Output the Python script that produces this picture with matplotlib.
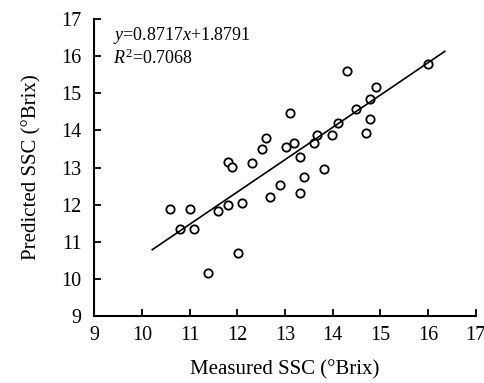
import numpy as np
import matplotlib.pyplot as plt

plt.rcParams['font.family'] = ['Liberation Serif', 'DejaVu Serif']
plt.rcParams['mathtext.fontset'] = 'custom'
plt.rcParams['mathtext.rm'] = 'Liberation Serif'
plt.rcParams['mathtext.it'] = 'Liberation Serif:italic'

# --- Dados ---
measured = [10.59, 10.80, 11.02, 11.10, 11.39, 11.60, 11.81, 11.81, 11.90, 12.02,
            12.10, 12.31, 12.51, 12.60, 12.69, 12.90, 13.02, 13.10, 13.19, 13.31,
            13.31, 13.40, 13.61, 13.68, 13.82, 13.98, 14.12, 14.31, 14.49, 14.70,
            14.78, 14.78, 14.91, 16.00]
predicted = [11.88, 11.34, 11.88, 11.34, 10.16, 11.83, 11.99, 13.16, 13.02, 10.70,
             12.04, 13.13, 13.50, 13.79, 12.21, 12.53, 13.56, 14.48, 13.67, 13.29,
             12.32, 12.75, 13.67, 13.88, 12.97, 13.88, 14.21, 15.61, 14.58, 13.94,
             14.31, 14.85, 15.18, 15.78]

slope, intercept = 0.8717, 1.8791
line_x = np.array([10.22, 16.35])
ticks = [9, 10, 11, 12, 13, 14, 15, 16, 17]

fig = plt.figure(figsize=(4.85, 3.83), dpi=100)
ax = fig.add_axes([0.194, 0.175, 0.787, 0.775])

ax.plot(measured, predicted, 'o', mfc='white', mec='black', ms=6, mew=1.3)
ax.plot(line_x, slope * line_x + intercept, color='black', lw=1.2)

ax.text(9.4, 16.55, r"$y$=0.8717$x$+1.8791", fontsize=13, va='center')
ax.text(9.4, 15.95, r"$R^2$=0.7068", fontsize=13, va='center')

ax.set_xlim(9, 17)
ax.set_ylim(9, 17)
ax.set_xticks(ticks)
ax.set_yticks(ticks)
ax.tick_params(direction='in', length=5, width=1.3, labelsize=14.5)
ax.tick_params(axis='x', pad=7)
ax.tick_params(axis='y', pad=9)
ax.spines['top'].set_visible(False)
ax.spines['right'].set_visible(False)
for s in ['left', 'bottom']:
    ax.spines[s].set_linewidth(1.5)

ax.set_xlabel("Measured SSC (°Brix)", fontsize=15, labelpad=11)
ax.set_ylabel("Predicted SSC (°Brix)", fontsize=15, labelpad=14)

fig.savefig("out.png", dpi=100)
